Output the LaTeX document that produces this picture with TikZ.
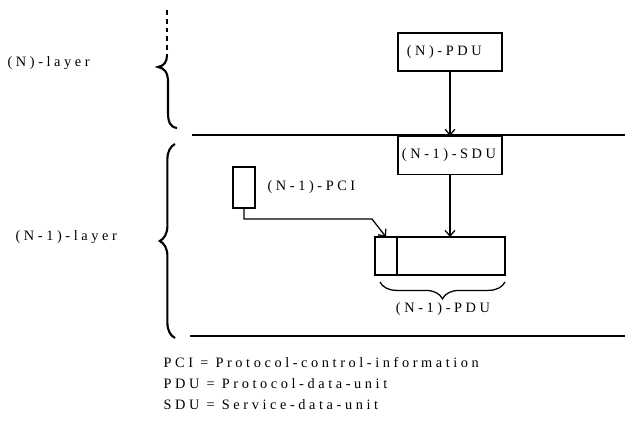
\documentclass[tikz,border=0pt]{standalone}
\usepackage{fontspec}
\setmainfont{Liberation Serif}[LetterSpace=25]
\usetikzlibrary{arrows.meta,positioning,calc,decorations.pathreplacing}

\begin{document}
\begin{tikzpicture}[x=0.025cm,y=-0.025cm,>={Straight Barb[length=4pt,width=7pt]},
  font=\fontsize{10.2}{12}\selectfont,line width=0.9pt,
  unitbox/.style={draw,minimum width=2.6cm,minimum height=0.95cm,text width=2.4cm,align=left,inner xsep=0.1cm,inner ysep=0pt},
  partbox/.style={draw,minimum height=0.95cm,inner sep=0pt,outer sep=0pt},
  lbl/.style={anchor=west,inner sep=0pt},
  bracestroke/.style={line width=1.5pt}]
\useasboundingbox (0,0) rectangle (625,428);
% layer boundaries
\coordinate (topL) at (192,135); \coordinate (topR) at (625,135);
\coordinate (botL) at (190,336); \coordinate (botR) at (625,336);
\draw (topL) -- (topR); \draw (botL) -- (botR);
% layer labels and braces
\node[lbl] (nlayer) at (7,63) {(N)-layer};
\node[lbl] (n1layer) at (15,237) {(N-1)-layer};
\coordinate (ub0) at (167,10); \coordinate (ub1) at (167,55);
\coordinate (utip) at (158,67); \coordinate (ub2) at (177,128);
\draw[bracestroke,dash pattern=on 0.12cm off 0.1cm] (ub0) -- (ub1);
\draw[bracestroke] (ub1) .. controls (167,62) and (164,66) .. (utip)
  .. controls (164,68) and (168,72) .. (168,82) -- (168,112)
  .. controls (168,122) and (170,127) .. (ub2);
\coordinate (lb0) at (175,338); \coordinate (lb1) at (175,144);
\draw[bracestroke,decorate,decoration={brace,amplitude=0.38cm}] (lb0) -- (lb1);
% units
\node[unitbox] (npdu) at (450,52) {\hspace{0.12cm}(N)-PDU};
\node[unitbox] (sdu) at (450,155.5) {(N-1)-SDU};
\node[partbox,minimum width=0.55cm,minimum height=1.025cm] (pci) at (244,187.5) {};
\node[lbl] (pcilbl) at (267,187) {(N-1)-PCI};
\node[partbox,minimum width=0.55cm] (hdr) at (386,256) {};
\node[partbox,minimum width=2.7cm,anchor=west] (data) at (hdr.east) {};
\coordinate (bend) at (372,219);
\draw[->] (npdu) -- (sdu);
\draw[->] (sdu) -- (sdu |- data.north);
\draw[->] (pci.south) |- (bend) -- (hdr.north);
% brace under the (N-1)-PDU
\coordinate (br) at (505,282); \coordinate (bl) at (380,282);
\draw[decorate,decoration={brace,amplitude=0.42cm}] (br) -- (bl);
\node (pdulbl) at (443,309) {(N-1)-PDU};
% legend
\node[lbl] (leg1) at (163,363) {PCI = Protocol-control-information};
\node[lbl] (leg2) at (163,384) {PDU = Protocol-data-unit};
\node[lbl] (leg3) at (163,405) {SDU = Service-data-unit};
\end{tikzpicture}
\end{document}
